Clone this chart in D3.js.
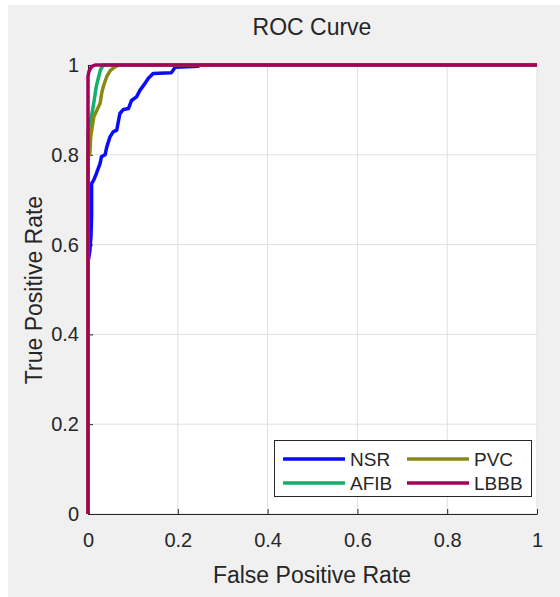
<!DOCTYPE html>
<html>
<head>
<meta charset="utf-8">
<script src="https://cdn.jsdelivr.net/npm/d3@7"></script>
<style>
  body { margin: 0; background: #fff; }
  svg text { font-family: "Liberation Sans", Arial, sans-serif; fill: #262626; }
</style>
</head>
<body>
<svg id="chart" width="560" height="597"></svg>
<script>
// ---- data ----
const seriesNames = ["NSR", "AFIB", "PVC", "LBBB"];
const seriesColors = ["#0a0aff", "#12b06a", "#8a8a10", "#a8005a"];

const nsrFpr = [0, 0, 0.004, 0.0067, 0.008, 0.008, 0.012, 0.019, 0.027, 0.030, 0.038, 0.042, 0.049, 0.056, 0.064, 0.071, 0.079, 0.090, 0.097, 0.108, 0.116, 0.127, 0.134, 0.145, 0.186, 0.194, 0.245, 0.25, 1];
const nsrTpr = [0, 0.56, 0.585, 0.62, 0.665, 0.736, 0.742, 0.759, 0.781, 0.796, 0.80, 0.818, 0.84, 0.851, 0.855, 0.892, 0.901, 0.903, 0.921, 0.929, 0.944, 0.959, 0.970, 0.981, 0.983, 0.995, 0.997, 1, 1];

const afibFpr = [0, 0, 0.005, 0.012, 0.018, 0.024, 0.028, 0.034, 1];
const afibTpr = [0, 0.85, 0.87, 0.91, 0.95, 0.975, 0.99, 1, 1];

const pvcFpr = [0, 0, 0.004, 0.006, 0.009, 0.013, 0.02, 0.027, 0.031, 0.035, 0.042, 0.05, 0.06, 0.07, 1];
const pvcTpr = [0, 0.8, 0.80, 0.84, 0.86, 0.885, 0.90, 0.915, 0.94, 0.955, 0.975, 0.988, 0.996, 1, 1];

const lbbbFpr = [0, 0, 0.002, 0.005, 0.009, 0.016, 1];
const lbbbTpr = [0, 0.975, 0.985, 0.992, 0.997, 1, 1];

const tickValues = [0, 0.2, 0.4, 0.6, 0.8, 1];
const tickLabels = ["0", "0.2", "0.4", "0.6", "0.8", "1"];

const titleText = "ROC Curve";
const xLabelText = "False Positive Rate";
const yLabelText = "True Positive Rate";

// ---- layout ----
const svg = d3.select("#chart");
const pLeft = 88, pRight = 537, pTop = 65, pBottom = 514;

svg.append("rect").attr("x", 8).attr("y", 5).attr("width", 552).attr("height", 592).attr("fill", "#f0f0f0");

const x = d3.scaleLinear().domain([0, 1]).range([pLeft, pRight]);
const y = d3.scaleLinear().domain([0, 1]).range([pBottom, pTop]);

svg.append("rect").attr("x", pLeft).attr("y", pTop).attr("width", pRight - pLeft).attr("height", pBottom - pTop).attr("fill", "#ffffff");

// grid
const grid = svg.append("g");
grid.selectAll(".gx").data(tickValues).enter().append("line")
  .attr("x1", d => x(d)).attr("x2", d => x(d)).attr("y1", pTop).attr("y2", pBottom)
  .attr("stroke", "#dfdfdf").attr("stroke-width", 1);
grid.selectAll(".gy").data(tickValues).enter().append("line")
  .attr("y1", d => y(d)).attr("y2", d => y(d)).attr("x1", pLeft).attr("x2", pRight)
  .attr("stroke", "#dfdfdf").attr("stroke-width", 1);

// axes
const fmt = d => tickLabels[tickValues.indexOf(d)];
const xAxis = d3.axisBottom(x).tickValues(tickValues).tickFormat(fmt).tickSizeInner(-5).tickSizeOuter(0).tickPadding(19);
const yAxis = d3.axisLeft(y).tickValues(tickValues).tickFormat(fmt).tickSizeInner(-5).tickSizeOuter(0).tickPadding(9);

const gx = svg.append("g").attr("transform", `translate(0,${pBottom})`).call(xAxis);
const gy = svg.append("g").attr("transform", `translate(${pLeft},0)`).call(yAxis);
[gx, gy].forEach(g => {
  g.select(".domain").attr("stroke", "#262626").attr("stroke-width", 1);
  g.selectAll(".tick line").attr("stroke", "#262626");
  g.selectAll(".tick text").attr("font-size", 20).attr("fill", "#333333")
    .attr("font-family", "Liberation Sans, Arial, sans-serif");
});
gx.selectAll(".tick text").attr("dy", "0.71em");

// lines
const line = d3.line().x(d => x(d[0])).y(d => y(d[1]));
const seriesData = [
  d3.zip(nsrFpr, nsrTpr),
  d3.zip(afibFpr, afibTpr),
  d3.zip(pvcFpr, pvcTpr),
  d3.zip(lbbbFpr, lbbbTpr)
];
svg.append("g").selectAll("path").data(seriesData).enter().append("path")
  .attr("d", line)
  .attr("fill", "none")
  .attr("stroke", (d, i) => seriesColors[i])
  .attr("stroke-width", 3.5)
  .attr("stroke-linejoin", "round");

// title & labels
svg.append("text").attr("x", 312).attr("y", 35).attr("text-anchor", "middle").attr("font-size", 23).text(titleText);
svg.append("text").attr("x", 312).attr("y", 583).attr("text-anchor", "middle").attr("font-size", 23).text(xLabelText);
svg.append("text").attr("transform", "translate(42,290) rotate(-90)").attr("text-anchor", "middle").attr("font-size", 23).text(yLabelText);

// legend
const lg = svg.append("g");
lg.append("rect").attr("x", 274.5).attr("y", 440.5).attr("width", 257).attr("height", 56)
  .attr("fill", "#ffffff").attr("stroke", "#262626").attr("stroke-width", 1);
const legPos = [[283, 459], [283, 483], [407, 459], [407, 483]];
seriesNames.forEach((name, i) => {
  const [lx, ly] = legPos[i];
  lg.append("line").attr("x1", lx).attr("x2", lx + 62).attr("y1", ly).attr("y2", ly)
    .attr("stroke", seriesColors[i]).attr("stroke-width", 3.5);
  lg.append("text").attr("x", lx + 67).attr("y", ly).attr("dy", "0.35em").attr("font-size", 19).text(name);
});
</script>
</body>
</html>
